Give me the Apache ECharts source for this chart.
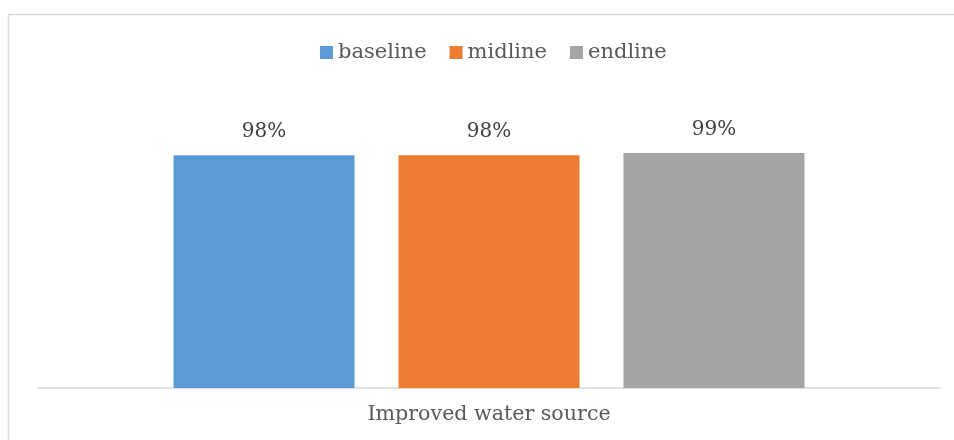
<!DOCTYPE html>
<html>
<head>
<meta charset="utf-8">
<script src="https://cdn.jsdelivr.net/npm/echarts@6/dist/echarts.min.js"></script>
<style>
  html, body { margin: 0; padding: 0; background: #fff; }
  #chart { width: 954px; height: 440px; }
</style>
</head>
<body>
<div id="chart"></div>
<script>
// Share of households using an improved water source, by survey round
const categories = ['Improved water source'];
const seriesNames = ['baseline', 'midline', 'endline'];
const baseline = [98];
const midline = [98];
const endline = [99];
const colors = ['#5b9bd5', '#ed7d31', '#a5a5a5'];

const FONT = 'Georgia, "DejaVu Serif", "Liberation Serif", serif';
const TEXT = '#595959';

const seriesData = [baseline, midline, endline];

const chart = echarts.init(document.getElementById('chart'));
chart.setOption({
  animation: false,
  textStyle: { fontFamily: FONT },
  graphic: [{
    type: 'rect',
    shape: { x: 8.5, y: 14.5, width: 1000, height: 600 },
    style: { fill: 'none', stroke: '#d9d9d9', lineWidth: 1.5 },
    silent: true
  }],
  legend: {
    top: 37,
    left: 315,
    itemWidth: 13,
    itemHeight: 13,
    itemGap: 23,
    icon: 'rect',
    textStyle: { fontFamily: FONT, fontSize: 21, color: TEXT },
    data: seriesNames
  },
  grid: { left: 38, right: 14, top: 103, bottom: 52 },
  xAxis: {
    type: 'category',
    data: categories,
    axisLine: { lineStyle: { color: '#d9d9d9', width: 1.5 } },
    axisTick: { show: false },
    axisLabel: { fontFamily: FONT, fontSize: 20.6, color: TEXT, margin: 16 }
  },
  yAxis: {
    type: 'value',
    min: 0,
    max: 120,
    show: false,
    splitLine: { show: false }
  },
  series: seriesNames.map((name, i) => ({
    name,
    type: 'bar',
    data: seriesData[i],
    barWidth: 181,
    barGap: '24.3%',
    itemStyle: { color: colors[i] },
    label: {
      show: true,
      position: 'top',
      distance: 13,
      formatter: p => p.value + '%',
      fontFamily: FONT,
      fontSize: 20,
      color: '#404040'
    }
  }))
});
</script>
</body>
</html>
